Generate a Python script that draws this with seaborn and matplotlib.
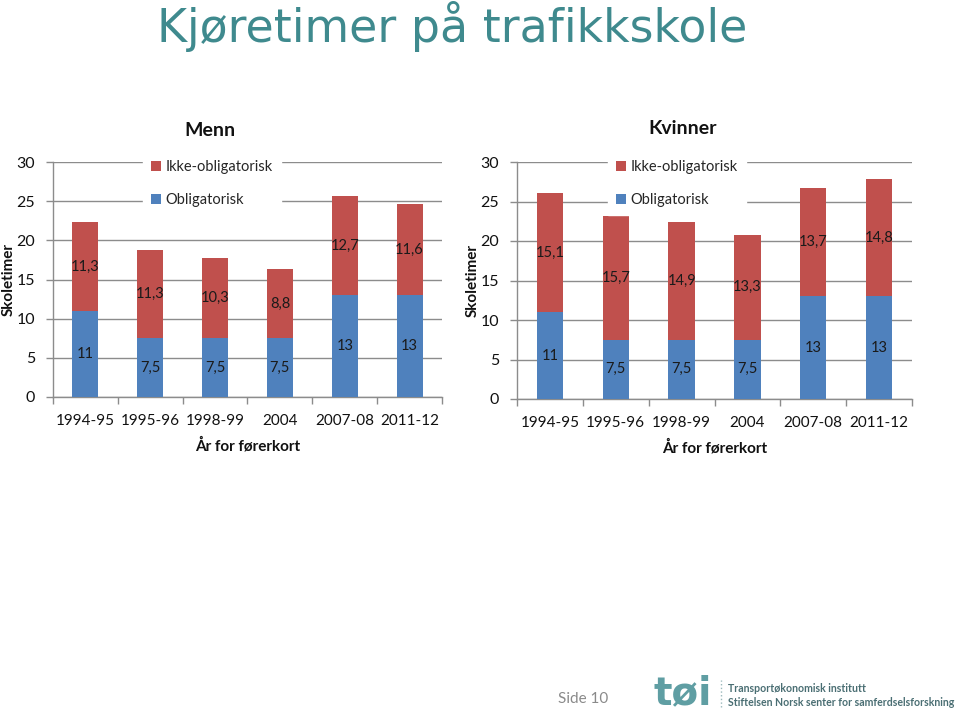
import matplotlib
matplotlib.use("Agg")
import matplotlib.pyplot as plt
import seaborn as sns
import pandas as pd
from matplotlib.patches import Patch
from matplotlib.lines import Line2D

categories = ["1994-95", "1995-96", "1998-99", "2004", "2007-08", "2011-12"]
menn_oblig = [11, 7.5, 7.5, 7.5, 13, 13]
menn_ikke = [11.3, 11.3, 10.3, 8.8, 12.7, 11.6]
kvinner_oblig = [11, 7.5, 7.5, 7.5, 13, 13]
kvinner_ikke = [15.1, 15.7, 14.9, 13.3, 13.7, 14.8]
yticks = [0, 5, 10, 15, 20, 25, 30]
series_labels = ["Ikke-obligatorisk", "Obligatorisk"]

BLUE = "#4F81BD"
RED = "#C0504D"
GRID = "#8C8C8C"
TEAL = "#3F8A8E"

sns.set_theme(style="white")
plt.rcParams['font.family'] = ['Lato', 'DejaVu Sans']

fig = plt.figure(figsize=(9.6, 7.12), dpi=100)
W, H = 960, 712
ax1 = fig.add_axes([53 / W, 315 / H, 389 / W, 235 / H])
ax2 = fig.add_axes([517 / W, 313 / H, 395 / W, 237 / H])


def fmt(v):
    return f"{v:g}".replace(".", ",")


def draw(ax, oblig, ikke, title, tx, ty, leg_x):
    df = pd.DataFrame({"cat": categories, "oblig": oblig, "ikke": ikke})
    df["total"] = df["oblig"] + df["ikke"]
    sns.barplot(data=df, x="cat", y="total", color=RED, width=0.4, saturation=1,
                errorbar=None, linewidth=0, ax=ax, order=categories, zorder=2)
    sns.barplot(data=df, x="cat", y="oblig", color=BLUE, width=0.4, saturation=1,
                errorbar=None, linewidth=0, ax=ax, order=categories, zorder=3)
    for i, (o, k) in enumerate(zip(oblig, ikke)):
        ax.text(i, o / 2, fmt(o), ha="center", va="center", fontsize=10.5,
                color="#1a1a1a", zorder=5)
        ax.text(i, o + k / 2, fmt(k), ha="center", va="center", fontsize=10.5,
                color="#1a1a1a", zorder=5)
    ax.set_ylim(0, 30)
    ax.set_yticks(yticks)
    ax.set_xlim(-0.5, len(categories) - 0.5)
    ax.yaxis.grid(True, color=GRID, linewidth=1)
    ax.xaxis.grid(False)
    ax.set_axisbelow(True)
    for s in ["top", "right"]:
        ax.spines[s].set_visible(False)
    for s in ["left", "bottom"]:
        ax.spines[s].set_color(GRID)
        ax.spines[s].set_linewidth(1)
    ax.tick_params(axis="y", direction="out", length=5, width=1, color=GRID,
                   pad=8, labelsize=11.5, labelcolor="#111111", left=True)
    ax.tick_params(axis="x", which="major", length=0, pad=12, labelsize=11,
                   labelcolor="#111111")
    ax.set_xticks([i - 0.5 for i in range(len(categories) + 1)], minor=True)
    ax.tick_params(axis="x", which="minor", direction="out", length=5, width=1,
                   color=GRID, bottom=True)
    ax.set_xlabel("År for førerkort", fontsize=11, fontweight="bold",
                  labelpad=7, color="#111111")
    ax.set_ylabel("Skoletimer", fontsize=11, fontweight="bold", color="#111111")
    ax.yaxis.set_label_coords(-0.095, 0.5)
    ax.text(tx, ty, title, transform=ax.transAxes, ha="center", va="center",
            fontsize=14, fontweight="bold", color="#111111")
    handles = [Patch(facecolor=RED, edgecolor="none"),
               Patch(facecolor=BLUE, edgecolor="none")]
    leg = ax.legend(handles, series_labels, loc="upper left",
                    bbox_to_anchor=(leg_x, 1.042), borderaxespad=0,
                    frameon=True, fontsize=10.5, handlelength=0.7,
                    handleheight=0.7, handletextpad=0.3, labelspacing=1.3,
                    borderpad=0.55)
    leg.get_frame().set_facecolor("white")
    leg.get_frame().set_edgecolor("white")
    leg.get_frame().set_alpha(1)
    leg.get_frame().set_boxstyle("square", pad=0)


draw(ax1, menn_oblig, menn_ikke, "Menn", 0.404, 1.136, 0.231)
draw(ax2, kvinner_oblig, kvinner_ikke, "Kvinner", 0.42, 1.143, 0.230)

fig.text(452 / W, 1 - 26 / H, "Kjøretimer på trafikkskole", ha="center",
         va="center", fontsize=33, color=TEAL, family=["DejaVu Sans"])

fig.text(583 / W, 1 - 699 / H, "Side 10", ha="center", va="center",
         fontsize=11, color="#8a8a8a")
fig.text(683 / W, 1 - 693 / H, "tøi", ha="center", va="center",
         fontsize=28, fontweight="bold", color="#5F9EA3",
         family=["DejaVu Sans"])
fig.add_artist(Line2D([721 / W, 721 / W], [1 - 707 / H, 1 - 680 / H],
                      transform=fig.transFigure, color="#9ab8bb",
                      linestyle=":", linewidth=1))
fig.text(728 / W, 1 - 689 / H, "Transportøkonomisk institutt", ha="left",
         va="center", fontsize=7.6, fontweight="bold", color="#4A6E73")
fig.text(728 / W, 1 - 703 / H,
         "Stiftelsen Norsk senter for samferdselsforskning", ha="left",
         va="center", fontsize=7.6, fontweight="bold", color="#4A6E73")

fig.savefig("out.png", dpi=100)
